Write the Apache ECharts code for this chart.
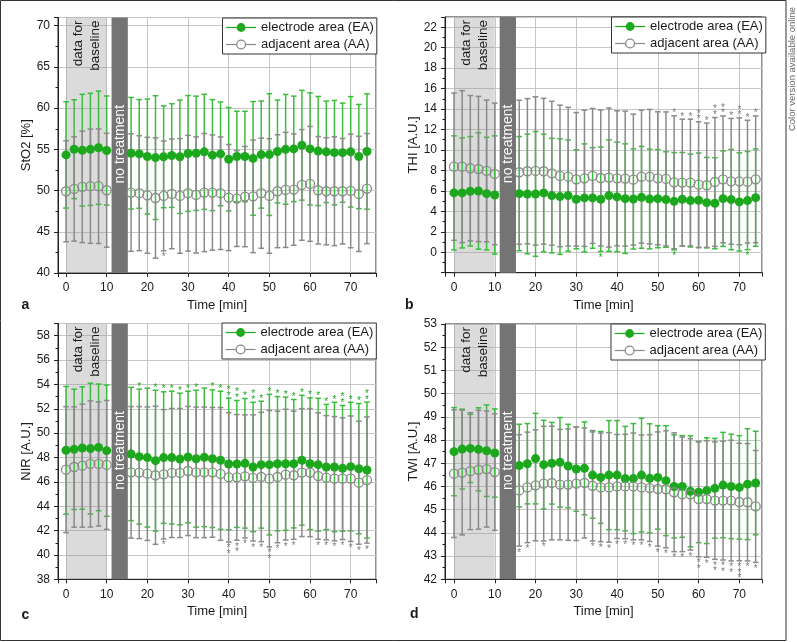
<!DOCTYPE html>
<html><head><meta charset="utf-8">
<script src="https://cdn.jsdelivr.net/npm/echarts/dist/echarts.min.js"></script>
<style>html,body{margin:0;padding:0;background:#fff}#c{width:797px;height:642px}</style>
</head><body><div id="c"></div>
<script>
// ---------- data ----------
const times = [0,2,4,6,8,10,16,18,20,22,24,26,28,30,32,34,36,38,40,42,44,46,48,50,52,54,56,58,60,62,64,66,68,70,72,74];
const xTicks = [0,10,20,30,40,50,60,70];

// a: StO2
const stoEAmean = [54.33,55.02,54.9,55.0,55.2,54.86,54.53,54.45,54.13,54.0,54.1,54.25,54.1,54.5,54.53,54.7,54.3,54.45,53.8,54.13,54.13,53.9,54.37,54.37,54.74,55.0,55.06,55.5,55.06,54.8,54.7,54.6,54.6,54.7,54.13,54.74];
const stoEAsd   = [6.45,6.0,6.78,6.8,6.87,6.62,6.77,6.6,6.97,7.51,6.18,6.29,6.88,7.03,6.93,6.98,6.74,6.3,6.28,5.5,5.49,6.9,6.5,7.39,6.24,6.66,6.4,6.66,6.8,6.62,6.16,6.34,6.01,6.7,6.32,7.0];
const stoAAmean = [49.92,50.2,50.45,50.53,50.53,50.04,49.76,49.68,49.43,49.1,49.35,49.6,49.35,49.68,49.47,49.76,49.76,49.68,49.15,49.03,49.27,49.3,49.68,49.35,49.92,50.08,50.12,50.69,50.81,50.04,49.92,49.92,49.92,49.96,49.6,50.24];
const stoAAsd   = [6.13,6.33,6.76,6.93,6.95,6.91,7.13,6.97,7.03,7.3,6.67,6.66,6.96,7.02,7.05,7.17,6.99,6.83,6.44,5.81,6.08,6.83,6.68,6.95,6.85,6.98,6.76,6.72,6.97,6.52,6.5,6.6,6.4,6.9,6.99,6.68];
const yTicksA = [40,45,50,55,60,65,70];
const starsA_AAlow = [[24,1]];

// b: THI
const thiEAmean = [5.8,5.8,5.96,5.99,5.73,5.6,5.73,5.7,5.7,5.8,5.54,5.44,5.54,5.18,5.31,5.31,5.18,5.54,5.41,5.24,5.21,5.37,5.21,5.24,5.15,4.98,5.18,5.05,5.08,4.85,4.79,5.24,5.15,4.92,5.05,5.34];
const thiEAsd   = [5.58,5.38,5.35,5.69,5.51,5.78,5.58,5.85,6.1,5.74,5.6,5.65,5.44,4.84,5.28,4.92,5.1,5.45,5.36,5.36,4.9,4.98,4.88,4.8,4.67,4.76,4.57,4.54,4.62,4.42,4.45,4.67,4.9,4.8,4.8,4.76];
const thiAAmean = [8.37,8.37,8.21,8.14,7.95,7.66,7.82,7.92,7.95,7.92,7.72,7.46,7.39,7.13,7.23,7.46,7.26,7.3,7.23,7.2,7.1,7.39,7.39,7.23,7.17,6.84,6.81,6.81,6.61,6.55,6.87,7.13,6.93,6.93,6.9,7.13];
const thiAAsd   = [7.2,7.43,7.11,7.1,6.93,6.92,7.04,7.1,7.25,7.13,7.04,6.92,6.78,6.53,6.66,6.6,6.65,6.8,6.6,6.6,6.4,6.5,6.57,6.5,6.55,6.5,6.2,6.2,6.15,6.08,6.3,6.2,6.15,6.2,6.0,6.2];
const yTicksB = [0,2,4,6,8,10,12,14,16,18,20,22];
const starsB_EAlow = [[36,1],[54,1],[72,1]];
const starsB_AAup = [[54,1],[56,1],[58,1],[60,2],[62,1],[64,2],[66,2],[68,1],[70,2],[72,1],[74,1]];

// c: NIR
const nirEAmean = [48.59,48.67,48.78,48.73,48.83,48.56,48.29,48.07,47.99,47.74,47.99,47.99,47.88,48.04,47.9,48.01,47.9,47.77,47.47,47.47,47.52,47.22,47.41,47.41,47.49,47.49,47.49,47.77,47.49,47.41,47.22,47.22,47.11,47.25,47.08,46.97];
const nirEAsd   = [5.24,4.94,5.02,5.37,5.2,5.39,5.47,5.54,5.7,5.78,5.4,5.45,5.4,5.4,5.62,5.69,5.65,5.67,5.4,5.21,5.32,5.31,5.21,5.77,5.51,5.47,5.27,5.33,5.41,5.45,5.14,5.31,5.16,5.28,5.35,5.58];
const nirAAmean = [47.0,47.22,47.33,47.47,47.47,47.39,46.78,46.76,46.67,46.54,46.62,46.73,46.73,46.89,46.78,46.78,46.78,46.65,46.37,46.37,46.45,46.32,46.4,46.26,46.4,46.59,46.54,46.76,46.76,46.48,46.34,46.26,46.26,46.26,45.93,46.15];
const nirAAsd   = [5.17,4.94,5.05,5.18,5.1,5.29,5.4,5.42,5.48,5.67,5.31,5.3,5.3,5.3,5.36,5.36,5.33,5.45,5.31,5.16,5.05,5.18,5.31,5.6,5.4,5.37,5.26,5.25,5.26,5.19,5.1,5.1,5.0,5.15,5.05,5.18];
const yTicksC = [38,40,42,44,46,48,50,52,54,56,58];
const starsC_EAup = [[18,1],[22,1],[24,1],[26,1],[28,1],[30,1],[32,1],[36,1],[38,1],[40,2],[42,2],[44,1],[46,2],[48,1],[50,1],[52,1],[54,1],[56,1],[58,1],[60,1],[62,1],[64,1],[66,1],[68,2],[70,1],[72,1],[74,2]];
const starsC_AAlow = [[24,1],[40,2],[42,2],[44,1],[46,1],[48,1],[50,2],[52,1],[54,1],[56,1],[62,1],[64,1],[66,1],[68,1],[70,1],[72,1],[74,1]];

// d: TWI
const twiEAmean = [47.5,47.61,47.64,47.6,47.54,47.44,46.9,46.98,47.2,46.94,47.0,47.04,46.88,46.75,46.78,46.49,46.39,46.49,46.49,46.34,46.34,46.49,46.35,46.39,46.25,46.0,46.0,45.79,45.75,45.82,45.92,46.06,46.0,45.96,46.1,46.15];
const twiEAsd   = [1.9,1.72,1.47,1.79,1.97,1.9,1.78,1.73,1.95,1.91,1.76,1.93,1.8,1.82,2.0,1.86,1.98,2.35,2.35,2.25,2.37,2.45,2.35,2.23,2.37,2.22,2.19,2.39,2.17,2.28,2.15,2.27,2.25,2.23,2.39,2.23];
const twiAAmean = [46.55,46.6,46.66,46.72,46.75,46.62,45.83,45.96,46.05,46.12,46.15,46.08,46.08,46.12,46.15,46.03,45.96,45.96,46.0,46.0,46.0,45.96,45.93,45.89,45.88,45.75,45.66,45.66,45.46,45.46,45.39,45.39,45.39,45.33,45.32,45.14];
const twiAAsd   = [2.75,2.69,2.52,2.56,2.5,2.51,2.4,2.38,2.39,2.47,2.45,2.38,2.4,2.45,2.37,2.38,2.34,2.36,2.24,2.25,2.3,2.26,2.3,2.46,2.52,2.56,2.47,2.4,2.49,2.51,2.53,2.56,2.6,2.53,2.53,2.41];
const yTicksD = [42,43,44,45,46,47,48,49,50,51,52,53];
const starsD_AAlow = [[16,1],[18,1],[22,1],[34,1],[36,1],[38,1],[40,1],[42,1],[44,1],[46,1],[48,1],[50,1],[52,1],[54,1],[56,1],[58,1],[60,2],[62,1],[64,2],[66,2],[68,2],[70,3],[72,1],[74,1]];

// shaded phases
const regionStart = [0, 11.2];
const regionEnd = [10, 15.2];
const regionLabels = ['data for\nbaseline', 'no treatment'];

const seriesNames = ['electrode area (EA)', 'adjacent area (AA)'];

// ---------- styling ----------
const GREEN = '#1ca81c', GREEN_BAR = '#3cbc3c', GRAY = '#8a8a8a', INK = '#1a1a1a';
const FONT = 'Liberation Sans, Arial, sans-serif';

const panels = [
  {letter:'a', grid:[58,17.5,318,255.5], x:[-1.97,76.22], y:[40,71,5], ticks:yTicksA, name:'StO2 [%]',
   ea:[stoEAmean,stoEAsd], aa:[stoAAmean,stoAAsd], stars:[{list:starsA_AAlow,s:'aa',dir:-1}],
   legend:[222.5,18], lpos:[21.5,306]},
  {letter:'b', grid:[445,17,317,255.7], x:[-2.21,75.56], y:[-2,23,2], ticks:yTicksB, name:'THI [A.U.]',
   ea:[thiEAmean,thiEAsd], aa:[thiAAmean,thiAAsd], stars:[{list:starsB_EAlow,s:'ea',dir:-1},{list:starsB_AAup,s:'aa',dir:1}],
   legend:[611.5,17], lpos:[405,306]},
  {letter:'c', grid:[58,323.5,318,255.8], x:[-1.97,76.22], y:[38,59,2], ticks:yTicksC, name:'NIR [A.U.]',
   ea:[nirEAmean,nirEAsd], aa:[nirAAmean,nirAAsd], stars:[{list:starsC_EAup,s:'ea',dir:1},{list:starsC_AAlow,s:'aa',dir:-1}],
   legend:[222,323], lpos:[21.5,616]},
  {letter:'d', grid:[445,324,317,255.3], x:[-2.21,75.56], y:[42,53,1], ticks:yTicksD, name:'TWI [A.U.]',
   ea:[twiEAmean,twiEAsd], aa:[twiAAmean,twiAAsd], stars:[{list:starsD_AAlow,s:'aa',dir:-1}],
   legend:[611,324], lpos:[410,615]}
];

function inList(list, v){ return list.some(t => Math.abs(t - v) < 1e-6); }

function regionRender(params, api){
  const cs = params.coordSys;
  const i = params.dataIndex;
  const x0 = api.coord([regionStart[i], 0])[0];
  const x1 = api.coord([regionEnd[i], 0])[0];
  const cx = (x0 + x1) / 2;
  const children = [{type:'rect', shape:{x:x0, y:cs.y, width:x1-x0, height:cs.height},
    style:{fill: i === 0 ? 'rgba(150,150,150,0.34)' : '#747474'}}];
  if (i === 0) {
    children.push({type:'text', x:cx + 0.5, y:cs.y + 3, rotation:Math.PI/2,
      style:{text:regionLabels[i], fill:INK, font:'13.5px ' + FONT, align:'right', verticalAlign:'middle',
             textAlign:'right', textVerticalAlign:'middle', lineHeight:17}});
  } else {
    children.push({type:'text', x:cx, y:cs.y + cs.height/2 - 1, rotation:Math.PI/2,
      style:{text:regionLabels[i], fill:'#ffffff', font:'14px ' + FONT, align:'center', verticalAlign:'middle',
             textAlign:'center', textVerticalAlign:'middle'}});
  }
  return {type:'group', children};
}

function barRender(color, gap, lw){
  return function(params, api){
    const t = api.value(0), m = api.value(1), s = api.value(2);
    const c = api.coord([t, m]), u = api.coord([t, m + s]), l = api.coord([t, m - s]);
    const w = 2.8;
    const st = {stroke:color, lineWidth:lw};
    return {type:'group', children:[
      {type:'line', shape:{x1:c[0], y1:c[1] - gap, x2:u[0], y2:u[1]}, style:st},
      {type:'line', shape:{x1:c[0], y1:c[1] + gap, x2:l[0], y2:l[1]}, style:st},
      {type:'line', shape:{x1:u[0] - w, y1:u[1], x2:u[0] + w, y2:u[1]}, style:st},
      {type:'line', shape:{x1:l[0] - w, y1:l[1], x2:l[0] + w, y2:l[1]}, style:st}
    ]};
  };
}

function starRender(color, dir){
  return function(params, api){
    const t = api.value(0), cap = api.value(1), n = api.value(2);
    const c = api.coord([t, cap]);
    const children = [];
    for (let k = 0; k < n; k++) {
      const off = 4.5 + k * 5.5;
      children.push({type:'text', x:c[0], y:c[1] - dir * off + 2.2,
        style:{text:'*', fill:color, font:'10px ' + FONT, align:'center', verticalAlign:'middle',
               textAlign:'center', textVerticalAlign:'middle'}});
    }
    return {type:'group', children};
  };
}

const option = {animation:false, grid:[], xAxis:[], yAxis:[], series:[], legend:[], graphic:[]};

panels.forEach((p, i) => {
  option.grid.push({left:p.grid[0], top:p.grid[1], width:p.grid[2], height:p.grid[3],
    show:true, borderColor:'#222', borderWidth:1, backgroundColor:'#fff'});
  option.xAxis.push({gridIndex:i, type:'value', min:p.x[0], max:p.x[1], splitNumber:8,
    axisLine:{show:true, onZero:false, lineStyle:{color:'#222', width:1}},
    axisTick:{show:true, length:4, lineStyle:{color:'#222'}},
    axisLabel:{fontSize:12, color:INK, fontFamily:FONT, margin:9,
      formatter: v => inList(xTicks, v) ? String(Math.round(v)) : ''},
    splitLine:{show:true, lineStyle:{color:'#c6c6c6', width:1}},
    name:'Time [min]', nameLocation:'middle', nameGap:26,
    nameTextStyle:{fontSize:13, color:INK, fontFamily:FONT}});
  option.yAxis.push({gridIndex:i, type:'value', min:p.y[0], max:p.y[1], interval:p.y[2],
    axisLine:{show:true, onZero:false, lineStyle:{color:'#222', width:1}},
    axisTick:{show:true, length:4, lineStyle:{color:'#222'}},
    minorTick:{show:true, splitNumber:2, length:2.5, lineStyle:{color:'#222'}},
    axisLabel:{fontSize:12, color:INK, fontFamily:FONT, margin:8,
      formatter: v => inList(p.ticks, v) ? String(Math.round(v)) : ''},
    splitLine:{show:true, lineStyle:{color:'#c6c6c6', width:1}},
    name:p.name, nameLocation:'middle', nameGap:24,
    nameTextStyle:{fontSize:13, color:INK, fontFamily:FONT}});

  const ax = {xAxisIndex:i, yAxisIndex:i};
  // phases
  option.series.push(Object.assign({type:'custom', silent:true, renderItem:regionRender,
    data: regionStart.map((s, k) => [s, regionEnd[k]]), encode:{x:[0,1]}}, ax));
  // EA error bars + markers
  option.series.push(Object.assign({type:'custom', silent:true, renderItem:barRender(GREEN_BAR, 0, 1.5),
    data: times.map((t, k) => [t, p.ea[0][k], p.ea[1][k]]), encode:{x:0, y:1}}, ax));
  option.series.push(Object.assign({type:'line', name:seriesNames[0], silent:true,
    data: times.map((t, k) => [t, p.ea[0][k]]), symbol:'circle', symbolSize:9, showSymbol:true,
    lineStyle:{color:GREEN, opacity:0}, itemStyle:{color:GREEN}}, ax));
  // AA error bars + markers
  option.series.push(Object.assign({type:'custom', silent:true, renderItem:barRender(GRAY, 4.4, 1.5),
    data: times.map((t, k) => [t, p.aa[0][k], p.aa[1][k]]), encode:{x:0, y:1}}, ax));
  option.series.push(Object.assign({type:'line', name:seriesNames[1], silent:true,
    data: times.map((t, k) => [t, p.aa[0][k]]), symbol:'circle', symbolSize:9, showSymbol:true,
    lineStyle:{color:GRAY, opacity:0}, itemStyle:{color:'rgba(255,255,255,0)', borderColor:GRAY, borderWidth:1.3}}, ax));
  // significance marks
  p.stars.forEach(sg => {
    const src = sg.s === 'ea' ? p.ea : p.aa;
    const data = sg.list.map(([t, n]) => { const k = times.indexOf(t); return [t, src[0][k] + sg.dir * src[1][k], n]; });
    option.series.push(Object.assign({type:'custom', silent:true,
      renderItem: starRender(sg.s === 'ea' ? GREEN : '#7a7a7a', sg.dir), data, encode:{x:0, y:1}}, ax));
  });

  option.legend.push({left:p.legend[0], top:p.legend[1], orient:'vertical', align:'left',
    backgroundColor:'#fff', borderColor:'#333', borderWidth:1, borderRadius:0,
    padding:[2,3,2,3], itemGap:2, itemWidth:30, itemHeight:11, selectedMode:false,
    lineStyle:{opacity:1, width:1.2},
    textStyle:{fontSize:13, color:INK, fontFamily:FONT, lineHeight:15},
    data:[{name:seriesNames[0]},
          {name:seriesNames[1], itemStyle:{color:'#fff', borderColor:GRAY, borderWidth:1.3}}]});

  option.graphic.push({type:'text', left:p.lpos[0], top:p.lpos[1] - 8,
    style:{text:p.letter, font:'bold 14px ' + FONT, fill:INK}});
});

option.graphic.push({type:'rect', shape:{x:0.5, y:0.5, width:785.5, height:640}, silent:true,
  style:{fill:'none', stroke:'#333', lineWidth:1}});
option.graphic.push({type:'text', x:792, y:69, rotation:Math.PI/2, silent:true,
  style:{text:'Color version available online', font:'9.5px ' + FONT, fill:'#666',
         align:'center', verticalAlign:'middle', textAlign:'center', textVerticalAlign:'middle'}});

const chart = echarts.init(document.getElementById('c'), null, {renderer:'canvas'});
chart.setOption(option);
</script>
</body></html>
